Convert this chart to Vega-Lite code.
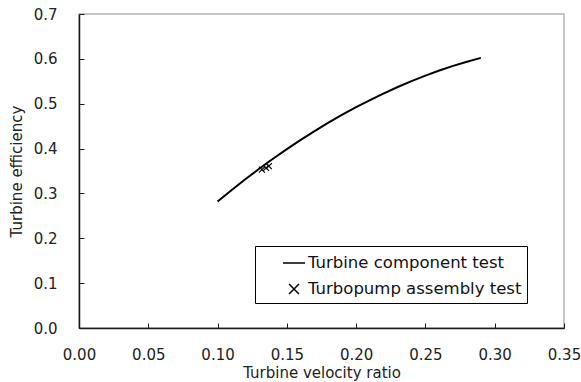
{
  "$schema": "https://vega.github.io/schema/vega-lite/v6.json",
  "width": 485,
  "height": 314,
  "autosize": {"type": "none"},
  "padding": {"left": 79, "top": 14, "right": 17, "bottom": 54},
  "background": "white",
  "datasets": {
    "curve": [
      {"ratio": 0.10, "eff": 0.282, "series": "Turbine component test"},
      {"ratio": 0.11, "eff": 0.3072, "series": "Turbine component test"},
      {"ratio": 0.12, "eff": 0.3315, "series": "Turbine component test"},
      {"ratio": 0.13, "eff": 0.3549, "series": "Turbine component test"},
      {"ratio": 0.14, "eff": 0.3773, "series": "Turbine component test"},
      {"ratio": 0.15, "eff": 0.3988, "series": "Turbine component test"},
      {"ratio": 0.16, "eff": 0.4194, "series": "Turbine component test"},
      {"ratio": 0.17, "eff": 0.4390, "series": "Turbine component test"},
      {"ratio": 0.18, "eff": 0.4577, "series": "Turbine component test"},
      {"ratio": 0.19, "eff": 0.4755, "series": "Turbine component test"},
      {"ratio": 0.20, "eff": 0.4923, "series": "Turbine component test"},
      {"ratio": 0.21, "eff": 0.5082, "series": "Turbine component test"},
      {"ratio": 0.22, "eff": 0.5232, "series": "Turbine component test"},
      {"ratio": 0.23, "eff": 0.5373, "series": "Turbine component test"},
      {"ratio": 0.24, "eff": 0.5504, "series": "Turbine component test"},
      {"ratio": 0.25, "eff": 0.5627, "series": "Turbine component test"},
      {"ratio": 0.26, "eff": 0.5739, "series": "Turbine component test"},
      {"ratio": 0.27, "eff": 0.5843, "series": "Turbine component test"},
      {"ratio": 0.28, "eff": 0.5937, "series": "Turbine component test"},
      {"ratio": 0.29, "eff": 0.6022, "series": "Turbine component test"}
    ],
    "tests": [
      {"ratio": 0.132, "eff": 0.353, "series": "Turbopump assembly test"},
      {"ratio": 0.135, "eff": 0.357, "series": "Turbopump assembly test"},
      {"ratio": 0.137, "eff": 0.361, "series": "Turbopump assembly test"}
    ]
  },
  "config": {
    "view": {"stroke": "#b4b4b4", "strokeWidth": 1.5},
    "font": "DejaVu Sans",
    "axis": {
      "grid": false,
      "labelFlush": false,
      "domainColor": "#1a1a1a",
      "domainWidth": 1.5,
      "tickColor": "#1a1a1a",
      "tickWidth": 1,
      "tickSize": -5,
      "labelFont": "DejaVu Sans",
      "labelFontSize": 15,
      "labelColor": "#222222",
      "titleFont": "DejaVu Sans",
      "titleFontSize": 15,
      "titleFontWeight": "normal",
      "titleColor": "#222222"
    }
  },
  "layer": [
    {
      "data": {"name": "curve"},
      "mark": {"type": "line", "color": "black", "strokeWidth": 2},
      "encoding": {
        "x": {
          "field": "ratio", "type": "quantitative",
          "scale": {"domain": [0, 0.35], "nice": false},
          "axis": {"values": [0, 0.05, 0.1, 0.15, 0.2, 0.25, 0.3, 0.35], "format": ".2f", "title": "Turbine velocity ratio", "labelPadding": 24, "titlePadding": 3}
        },
        "y": {
          "field": "eff", "type": "quantitative",
          "scale": {"domain": [0, 0.7], "nice": false},
          "axis": {"values": [0, 0.1, 0.2, 0.3, 0.4, 0.5, 0.6, 0.7], "format": ".1f", "title": "Turbine efficiency", "labelPadding": 27, "titlePadding": 9}
        }
      }
    },
    {
      "data": {"name": "tests"},
      "mark": {"type": "point", "filled": false, "color": "black", "strokeWidth": 1.2, "size": 178, "opacity": 1},
      "encoding": {
        "x": {"field": "ratio", "type": "quantitative"},
        "y": {"field": "eff", "type": "quantitative"},
        "shape": {
          "field": "series", "type": "nominal",
          "scale": {
            "domain": ["Turbine component test", "Turbopump assembly test"],
            "range": ["stroke", "M-0.45,-0.45L0.45,0.45M-0.45,0.45L0.45,-0.45"]
          },
          "legend": {
            "title": null,
            "orient": "none",
            "legendX": 176,
            "legendY": 232,
            "strokeColor": "black",
            "fillColor": "white",
            "padding": 5,
            "symbolOffset": 22,
            "symbolSize": 484,
            "symbolStrokeWidth": 1.5,
            "symbolStrokeColor": "black",
            "symbolFillColor": "transparent",
            "labelFont": "DejaVu Sans",
            "labelFontSize": 16.5,
            "labelColor": "#111111",
            "labelOffset": 2,
            "rowPadding": 5,
            "labelLimit": 400,
            "labelExpr": "datum.label + '\u2003\u2003'"
          }
        }
      }
    }
  ]
}
